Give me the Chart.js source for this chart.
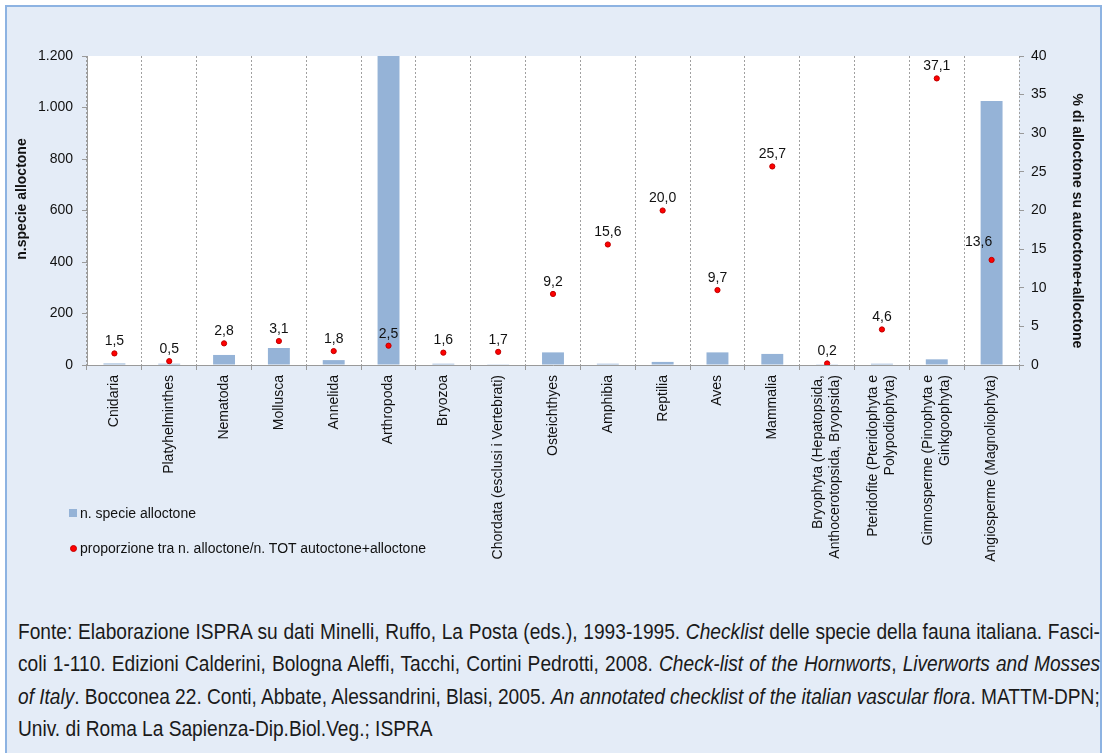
<!DOCTYPE html>
<html>
<head>
<meta charset="utf-8">
<script src="https://cdn.jsdelivr.net/npm/chart.js@4.4.0/dist/chart.umd.min.js"></script>
<style>
  html, body { margin:0; padding:0; background:#ffffff; width:1104px; height:753px; overflow:hidden; }
  #box { position:absolute; left:5px; top:5px; width:1097px; height:800px; box-sizing:border-box;
         border:2px solid #8db3e2; border-bottom:none; background:#e4ecf7; }
  #wrap { position:absolute; left:0; top:0; width:1104px; height:600px; }
  .leg { position:absolute; font-family:"Liberation Sans", Arial, sans-serif; font-size:14px; color:#111; line-height:16px; white-space:nowrap; }
  .src { position:absolute; left:18px; font-family:"Liberation Sans", Arial, sans-serif;
         font-size:22px; color:#1a1a1a; white-space:nowrap; line-height:32px;
         transform:scaleX(0.87); transform-origin:0 0; }
</style>
</head>
<body>
<div id="box"></div>
<div id="wrap"><canvas id="c" width="1104" height="600"></canvas></div>
<div id="legend"></div>
<div id="source"></div>
<script>
const categories = [
  "Cnidaria", "Platyhelminthes", "Nematoda", "Mollusca", "Annelida", "Arthropoda", "Bryozoa",
  "Chordata (esclusi i Vertebrati)", "Osteichthyes", "Amphibia", "Reptilia", "Aves", "Mammalia",
  ["Bryophyta (Hepatopsida,", "Anthocerotopsida, Bryopsida)"],
  ["Pteridofite (Pteridophyta e", "Polypodiophyta)"],
  ["Gimnosperme (Pinophyta e", "Ginkgoophyta)"],
  "Angiosperme (Magnoliophyta)"
];
const speciesCounts = [6, 5, 39, 66, 19, 1500, 5, 1, 49, 5, 12, 49, 43, 1, 5, 22, 1025];
const percentages   = [1.5, 0.5, 2.8, 3.1, 1.8, 2.5, 1.6, 1.7, 9.2, 15.6, 20.0, 9.7, 25.7, 0.2, 4.6, 37.1, 13.6];
const leftTicks  = [0, 200, 400, 600, 800, 1000, 1200];
const rightTicks = [0, 5, 10, 15, 20, 25, 30, 35, 40];
const seriesNames = ["n. specie alloctone", "proporzione tra n. alloctone/n. TOT autoctone+alloctone"];
const leftTitle = "n.specie alloctone";
const rightTitle = "% di alloctone su autoctone+alloctone";

const FONT = '"Liberation Sans", Arial, sans-serif';
const TXT = '#111111';
const BAR = '#95b3d7';
const DOT = '#ff0000';

function fmtThousands(v) { return String(v).replace(/\B(?=(\d{3})+(?!\d))/g, '.'); }
function fmtDec(v) { return v.toFixed(1).replace('.', ','); }

const helper = {
  id: 'helper',
  beforeDraw(chart) {
    const {ctx, chartArea: a} = chart;
    ctx.save();
    ctx.fillStyle = '#ffffff';
    ctx.fillRect(a.left, a.top, a.right - a.left, a.bottom - a.top);
    ctx.restore();
  },
  afterDatasetsDraw(chart) {
    const ctx = chart.ctx;
    const meta = chart.getDatasetMeta(0);
    const shifts = {16: [-13, -6]};
    ctx.save();
    ctx.font = '14px ' + FONT;
    ctx.fillStyle = TXT;
    ctx.textAlign = 'center';
    ctx.textBaseline = 'middle';
    meta.data.forEach((pt, i) => {
      const s = shifts[i] || [0, 0];
      ctx.fillText(fmtDec(percentages[i]), pt.x + s[0], pt.y - 12 + s[1]);
    });
    ctx.restore();
  },
  afterDraw(chart) {
    const ctx = chart.ctx;
    const xs = chart.scales.x;
    const a = chart.chartArea;
    ctx.save();
    ctx.font = '14px ' + FONT;
    ctx.fillStyle = TXT;
    ctx.textAlign = 'right';
    ctx.textBaseline = 'middle';
    categories.forEach((lab, i) => {
      const lines = Array.isArray(lab) ? lab : [lab];
      const x = xs.getPixelForValue(i);
      lines.forEach((ln, j) => {
        const off = (j - (lines.length - 1) / 2) * 17;
        ctx.save();
        ctx.translate(x + off, a.bottom + 10);
        ctx.rotate(-Math.PI / 2);
        ctx.fillText(ln, 0, 0);
        ctx.restore();
      });
    });
    ctx.font = 'bold 14px ' + FONT;
    ctx.textAlign = 'center';
    ctx.save();
    ctx.translate(a.left - 65, a.top + 143);
    ctx.rotate(-Math.PI / 2);
    ctx.fillText(leftTitle, 0, 0);
    ctx.restore();
    ctx.save();
    ctx.translate(a.right + 58, a.top + 165);
    ctx.rotate(Math.PI / 2);
    ctx.fillText(rightTitle, 0, 0);
    ctx.restore();
    ctx.restore();
  }
};

const chart = new Chart(document.getElementById('c'), {
  type: 'bar',
  data: {
    labels: categories,
    datasets: [
      {
        type: 'line',
        label: seriesNames[1],
        data: percentages,
        yAxisID: 'y1',
        showLine: false,
        pointRadius: 2.6,
        pointBackgroundColor: DOT,
        pointBorderColor: '#c00000',
        pointBorderWidth: 1,
        order: 0
      },
      {
        type: 'bar',
        label: seriesNames[0],
        data: speciesCounts,
        yAxisID: 'y',
        backgroundColor: BAR,
        borderWidth: 0,
        barPercentage: 0.4,
        categoryPercentage: 1.0,
        order: 1
      }
    ]
  },
  options: {
    responsive: false,
    animation: false,
    devicePixelRatio: 1,
    layout: { padding: { top: 56, left: 8, right: 15, bottom: 0 } },
    plugins: { legend: { display: false }, tooltip: { enabled: false } },
    scales: {
      x: {
        offset: true,
        grid: { offset: true, color: '#a0a0a0', lineWidth: 1, drawTicks: true, tickLength: 5, tickColor: '#9a9a9a' },
        border: { display: true, color: '#9a9a9a', width: 1, dash: [2, 2] },
        ticks: { display: false },
        afterFit(s) { s.height = 235; }
      },
      y: {
        position: 'left',
        min: 0, max: 1200,
        afterBuildTicks(s) { s.ticks = leftTicks.map(v => ({ value: v })); },
        grid: { drawOnChartArea: false, drawTicks: true, tickLength: 5, color: '#9a9a9a', tickColor: '#9a9a9a' },
        border: { display: true, color: '#9a9a9a', width: 1 },
        ticks: { padding: 9, color: TXT, font: { family: FONT, size: 14 }, callback: v => fmtThousands(v) },
        afterFit(s) { s.width = 79; }
      },
      y1: {
        position: 'right',
        min: 0, max: 40,
        afterBuildTicks(s) { s.ticks = rightTicks.map(v => ({ value: v })); },
        grid: { drawOnChartArea: false, drawTicks: true, tickLength: 5, color: '#9a9a9a', tickColor: '#9a9a9a' },
        border: { display: false },
        ticks: { padding: 7, color: TXT, font: { family: FONT, size: 14 }, callback: v => String(v) },
        afterFit(s) { s.width = 70; }
      }
    }
  },
  plugins: [helper]
});

// HTML legend built from datasets
const legend = document.getElementById('legend');
[chart.data.datasets[1], chart.data.datasets[0]].forEach((ds, k) => {
  const y = k === 0 ? 513 : 548;
  const mk = document.createElement('div');
  mk.style.position = 'absolute';
  if (ds.type === 'bar') {
    mk.style.left = '69px'; mk.style.top = (y - 4) + 'px';
    mk.style.width = '8px'; mk.style.height = '8px'; mk.style.background = ds.backgroundColor;
  } else {
    mk.style.left = '70px'; mk.style.top = (y - 3) + 'px';
    mk.style.width = '5px'; mk.style.height = '5px'; mk.style.borderRadius = '50%';
    mk.style.background = ds.pointBackgroundColor; mk.style.border = '0.5px solid ' + ds.pointBorderColor;
  }
  legend.appendChild(mk);
  const t = document.createElement('div');
  t.className = 'leg';
  t.style.left = '80px'; t.style.top = (y - 8) + 'px';
  t.textContent = ds.label;
  legend.appendChild(t);
});

// Source text
const sourceLines = [
  'Fonte: Elaborazione ISPRA su dati Minelli, Ruffo, La Posta (eds.), 1993-1995. <i>Checklist</i> delle specie della fauna italiana. Fasci-',
  'coli 1-110. Edizioni Calderini, Bologna Aleffi, Tacchi, Cortini Pedrotti, 2008. <i>Check-list of the Hornworts</i>, <i>Liverworts and Mosses</i>',
  '<i>of Italy</i>. Bocconea 22. Conti, Abbate, Alessandrini, Blasi, 2005. <i>An annotated checklist of the italian vascular flora</i>. MATTM-DPN;',
  'Univ. di Roma La Sapienza-Dip.Biol.Veg.; ISPRA'
];
const SCALE = 0.87;
const src = document.getElementById('source');
sourceLines.forEach((html, i) => {
  const d = document.createElement('div');
  d.className = 'src';
  d.style.top = (616 + i * 32.3) + 'px';
  d.innerHTML = html;
  src.appendChild(d);
  if (i < 3) {
    const target = 1082 / SCALE;
    const w = d.offsetWidth;
    const spaces = (d.textContent.match(/ /g) || []).length;
    if (spaces) d.style.wordSpacing = ((target - w) / spaces) + 'px';
  }
});
</script>
</body>
</html>
